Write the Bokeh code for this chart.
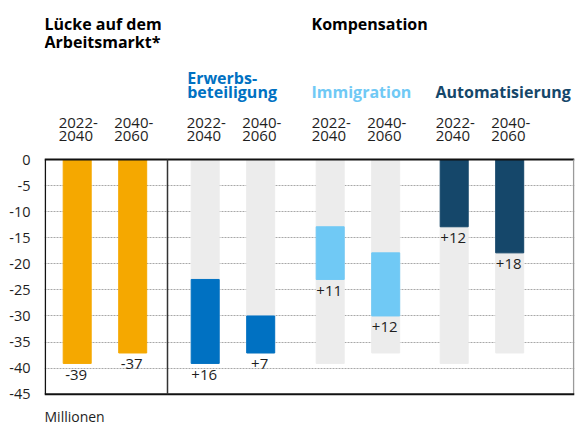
from bokeh.plotting import figure
from bokeh.models import Range1d, Label, FixedTicker, ColumnDataSource
from bokeh.core.properties import value
from bokeh.embed import file_html
from bokeh.resources import INLINE

# ---------------- data ----------------
periods = ["2022-2040", "2040-2060"]
gap = [-39.1, -37.1]            # Lücke auf dem Arbeitsmarkt (Mio.)
erwerbs = [16.1, 7.1]           # Kompensation durch Erwerbsbeteiligung
immigration = [10.1, 12.1]      # Kompensation durch Immigration
automation = [12.9, 17.9]       # Kompensation durch Automatisierung
gap_labels = ["-39", "-37"]
erwerbs_labels = ["+16", "+7"]
immigration_labels = ["+11", "+12"]
automation_labels = ["+12", "+18"]
y_ticks = [0, -5, -10, -15, -20, -25, -30, -35, -40, -45]

# ---------------- styles / layout ----------------
FONT = "Open Sans"
ORANGE = "#F5A800"
BLUE = "#0071C2"
LIGHT = "#70C9F5"
DARK = "#15476A"
GREY = "#ECECEC"
TXT = "#1e1e1e"

W, H = 575, 426
LEFT = 44
FRAME_W = W - LEFT - 1       # x data units = pixels from plot-area left
PLOT_TOP = 159               # px where value 0 sits
PX = 234.7 / 45.0            # px per million
TEXT_DY = 6.0                # baseline correction for text rendering (px)

def ydata(py):
    return -(py - TEXT_DY - PLOT_TOP) / PX

group_left = [32.7, 160.7, 285.7, 409.7]
pair_step = 55.5
BAR_W = 28

def centers(g):
    return [group_left[g], group_left[g] + pair_step]

p = figure(width=W, height=H, output_backend="svg", toolbar_location=None,
           x_range=Range1d(0, FRAME_W),
           y_range=Range1d(-(H - PLOT_TOP) / PX, PLOT_TOP / PX),
           min_border_left=LEFT, min_border_right=1, min_border_top=0,
           min_border_bottom=0)
p.background_fill_color = "white"
p.border_fill_color = "white"
p.outline_line_color = None

p.xaxis.visible = False
p.xgrid.visible = False
p.yaxis.ticker = FixedTicker(ticks=y_ticks)
p.yaxis.major_label_overrides = {t: str(t) for t in y_ticks}
p.yaxis.major_label_text_font = FONT
p.yaxis.major_label_text_font_size = "14.5px"
p.yaxis.major_label_text_color = TXT
p.yaxis.major_label_standoff = 8
p.yaxis.major_tick_line_color = None
p.yaxis.minor_tick_line_color = None
p.yaxis.axis_line_color = None
p.ygrid.ticker = FixedTicker(ticks=y_ticks[1:-1])
p.ygrid.grid_line_color = "#a8a8a8"
p.ygrid.grid_line_dash = "2 1"
p.ygrid.grid_line_width = 1

# grey background columns for the compensation groups
for g in (1, 2, 3):
    p.vbar(x=centers(g), width=BAR_W, top=[0, 0], bottom=gap, color=GREY)

# gap bars
p.vbar(x=centers(0), width=BAR_W, top=[0, 0], bottom=gap, color=ORANGE)

# stacked compensation
lvl1 = [gap[i] + erwerbs[i] for i in range(2)]
lvl2 = [lvl1[i] + immigration[i] for i in range(2)]
lvl3 = [lvl2[i] + automation[i] for i in range(2)]
p.vbar(x=centers(1), width=BAR_W, bottom=gap, top=lvl1, color=BLUE)
p.vbar(x=centers(2), width=BAR_W, bottom=lvl1, top=lvl2, color=LIGHT)
p.vbar(x=centers(3), width=BAR_W, bottom=lvl2, top=lvl3, color=DARK)

# value labels below each bar's lower end
LAB_OFF = (17.5 - TEXT_DY) / PX
lab_x, lab_y, lab_t = [], [], []
for g, lows, labs in ((0, gap, gap_labels), (1, gap, erwerbs_labels),
                      (2, lvl1, immigration_labels), (3, lvl2, automation_labels)):
    for i in range(2):
        lab_x.append(centers(g)[i] - 1)
        lab_y.append(lows[i] - LAB_OFF)
        lab_t.append(labs[i])
p.text(x="x", y="y", text="t", source=ColumnDataSource(dict(x=lab_x, y=lab_y, t=lab_t)),
       text_font=value(FONT), text_font_size=value("15px"), text_color=TXT,
       text_align="center", text_baseline="alphabetic")

# plot-area borders and the separator line
y_top, y_bot = y_ticks[0], y_ticks[-1]
SEP_X = 167 - LEFT
p.segment(x0=[0, FRAME_W - 0.8], y0=[y_top, y_top], x1=[FRAME_W, FRAME_W - 0.8], y1=[y_top, y_bot],
          line_color=["#111111", "#9a9a9a"], line_width=[2, 1.5])
p.segment(x0=[0, 0.8, SEP_X], y0=[y_bot, y_top, y_top], x1=[FRAME_W, 0.8, SEP_X],
          y1=[y_bot, y_bot, y_bot], line_color=["#111111", "#111111", "#333333"],
          line_width=[2, 1.5, 1.5])

def label(x, py, text, color=TXT, bold=False, size="15px"):
    p.add_layout(Label(x=x, y=ydata(py), text=text, text_font=FONT,
                       text_font_size=size, text_color=color,
                       text_font_style="bold" if bold else "normal",
                       text_align="left", text_baseline="alphabetic"))

# headers
HS = "16px"
label(0, 29.3, "Lücke auf dem", "#000000", True, HS)
label(0, 47.7, "Arbeitsmarkt*", "#000000", True, HS)
label(267, 29.3, "Kompensation", "#000000", True, HS)
label(142.7, 83.3, "Erwerbs-", BLUE, True, HS)
label(142.7, 97.3, "beteiligung", BLUE, True, HS)
label(267, 97.3, "Immigration", LIGHT, True, HS)
label(391, 97.3, "Automatisierung", DARK, True, HS)

# period labels
for g in range(4):
    for i, per in enumerate(periods):
        a, b = per.split("-")
        x0 = centers(g)[i] - 18.5
        label(x0, 128.3, a + "-")
        label(x0, 141.7, b)

label(0, 422, "Millionen", TXT, False, "14px")

open("out.html", "w").write(file_html(p, INLINE))
